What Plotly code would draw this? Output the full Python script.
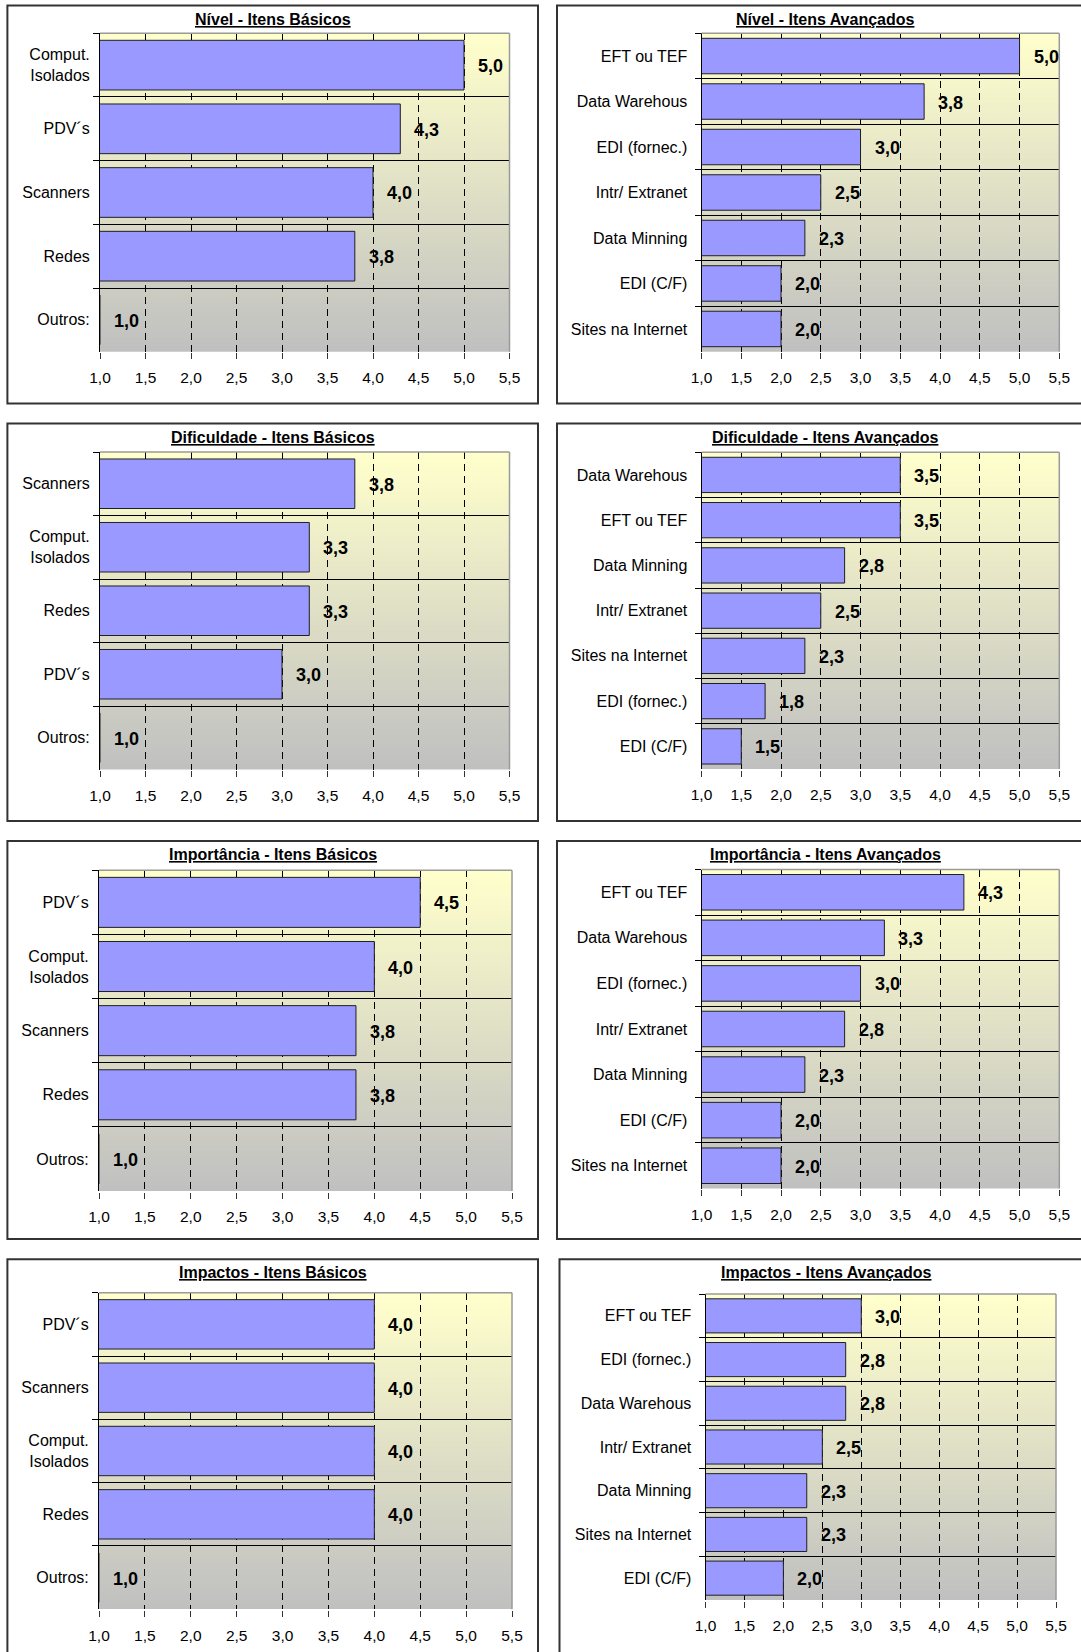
import plotly.graph_objects as go

# ---- dados (média das respostas, escala 1 a 5) ----
titulo_nivel_bas = "Nível - Itens Básicos"
itens_nivel_bas = ["Comput.<br>Isolados", "PDV´s", "Scanners", "Redes", "Outros:"]
valores_nivel_bas = [5.0, 4.3, 4.0, 3.8, 1.0]

titulo_nivel_av = "Nível - Itens Avançados"
itens_nivel_av = ["EFT ou TEF", "Data Warehous", "EDI (fornec.)", "Intr/ Extranet",
                  "Data Minning", "EDI (C/F)", "Sites na Internet"]
valores_nivel_av = [5.0, 3.8, 3.0, 2.5, 2.3, 2.0, 2.0]

titulo_dif_bas = "Dificuldade - Itens Básicos"
itens_dif_bas = ["Scanners", "Comput.<br>Isolados", "Redes", "PDV´s", "Outros:"]
valores_dif_bas = [3.8, 3.3, 3.3, 3.0, 1.0]

titulo_dif_av = "Dificuldade - Itens Avançados"
itens_dif_av = ["Data Warehous", "EFT ou TEF", "Data Minning", "Intr/ Extranet",
                "Sites na Internet", "EDI (fornec.)", "EDI (C/F)"]
valores_dif_av = [3.5, 3.5, 2.8, 2.5, 2.3, 1.8, 1.5]

titulo_imp_bas = "Importância - Itens Básicos"
itens_imp_bas = ["PDV´s", "Comput.<br>Isolados", "Scanners", "Redes", "Outros:"]
valores_imp_bas = [4.5, 4.0, 3.8, 3.8, 1.0]

titulo_imp_av = "Importância - Itens Avançados"
itens_imp_av = ["EFT ou TEF", "Data Warehous", "EDI (fornec.)", "Intr/ Extranet",
                "Data Minning", "EDI (C/F)", "Sites na Internet"]
valores_imp_av = [4.3, 3.3, 3.0, 2.8, 2.3, 2.0, 2.0]

titulo_impc_bas = "Impactos - Itens Básicos"
itens_impc_bas = ["PDV´s", "Scanners", "Comput.<br>Isolados", "Redes", "Outros:"]
valores_impc_bas = [4.0, 4.0, 4.0, 4.0, 1.0]

titulo_impc_av = "Impactos - Itens Avançados"
itens_impc_av = ["EFT ou TEF", "EDI (fornec.)", "Data Warehous", "Intr/ Extranet",
                 "Data Minning", "Sites na Internet", "EDI (C/F)"]
valores_impc_av = [3.0, 2.8, 2.8, 2.5, 2.3, 2.3, 2.0]

eixo_x_min, eixo_x_max, eixo_x_passo = 1.0, 5.5, 0.5

paineis = [
    (titulo_nivel_bas, itens_nivel_bas, valores_nivel_bas),
    (titulo_nivel_av, itens_nivel_av, valores_nivel_av),
    (titulo_dif_bas, itens_dif_bas, valores_dif_bas),
    (titulo_dif_av, itens_dif_av, valores_dif_av),
    (titulo_imp_bas, itens_imp_bas, valores_imp_bas),
    (titulo_imp_av, itens_imp_av, valores_imp_av),
    (titulo_impc_bas, itens_impc_bas, valores_impc_bas),
    (titulo_impc_av, itens_impc_av, valores_impc_av),
]

# ---- geometria da página (pixels) ----
W, H = 1081, 1652
FONT = "Liberation Sans, Arial, sans-serif"

# área de plotagem por painel: (x0, x1, y0, y1)
areas = [
    (100.0, 509.5, 33.3, 351.7), (701.5, 1059.3, 33.3, 351.7),
    (100.0, 509.5, 452.0, 769.5), (701.5, 1059.3, 452.3, 769.0),
    (99.0, 512.0, 870.3, 1191.0), (701.5, 1059.3, 869.5, 1188.5),
    (99.0, 512.0, 1292.7, 1609.3), (705.5, 1056.0, 1294.0, 1600.0),
]
# moldura de cada gráfico: (x0, x1, y0, y1)
molduras = [
    (7.4, 538.0, 5.5, 403.5), (557.0, 1093.0, 5.5, 403.5),
    (7.4, 538.0, 423.5, 821.0), (557.0, 1093.0, 423.5, 821.0),
    (7.4, 538.0, 841.0, 1239.0), (557.0, 1093.0, 841.0, 1239.0),
    (7.4, 538.0, 1259.3, 1660.0), (559.5, 1093.0, 1259.3, 1660.0),
]
titulo_y = [19.5, 437.5, 854.7, 1272.7]


def px(x):
    return x / W


def py(y):
    return 1 - y / H


def mistura(c0, c1, t):
    return "rgb(%d,%d,%d)" % tuple(round(a + (b - a) * t) for a, b in zip(c0, c1))


COR_TOPO = (255, 255, 204)
COR_BASE = (192, 192, 192)
N_FAIXAS = 64

fig = go.Figure()
layout = dict(
    width=W, height=H, margin=dict(l=0, r=0, t=0, b=0, pad=0),
    autosize=False,
    paper_bgcolor="white", plot_bgcolor="white",
    separators=",.", bargap=0.22, showlegend=False,
    font=dict(family=FONT, color="black"),
)
shapes = []
annotations = []

for i, (titulo, itens, valores) in enumerate(paineis):
    n = i + 1
    xa = "xaxis" if n == 1 else f"xaxis{n}"
    ya = "yaxis" if n == 1 else f"yaxis{n}"
    xr = "x" if n == 1 else f"x{n}"
    yr = "y" if n == 1 else f"y{n}"
    x0, x1, y0, y1 = areas[i]
    direita = i % 2 == 1

    layout[xa] = dict(
        domain=[px(x0), px(x1)], anchor=yr,
        range=[eixo_x_min, eixo_x_max], tick0=eixo_x_min, dtick=eixo_x_passo,
        tickformat=".1f", showgrid=True, gridcolor="black", gridwidth=1,
        griddash="7px,5px", zeroline=False,
        ticks="outside", ticklen=6, tickcolor="#333333", tickwidth=1,
        showline=True, linecolor="white", linewidth=1.5,
        tickfont=dict(size=15.5, family=FONT), ticklabelstandoff=5,
        automargin=False, fixedrange=True,
    )
    layout[ya] = dict(
        domain=[py(y1), py(y0)], anchor=xr, type="category",
        categoryorder="array", categoryarray=itens,
        range=[len(itens) - 0.5, -0.5], tickson="boundaries",
        ticks="outside", ticklen=6, tickcolor="black", tickwidth=1,
        showgrid=True, gridcolor="black", gridwidth=1,
        showline=True, linecolor="black", linewidth=1,
        tickfont=dict(size=16, family=FONT),
        ticklabelstandoff=10 if direita else 6,
        automargin=False, fixedrange=True,
    )

    fig.add_trace(go.Bar(
        x=valores, y=itens, orientation="h", xaxis=xr, yaxis=yr,
        marker=dict(color="#9999FF", line=dict(color="#202020", width=1)),
        hoverinfo="x+y",
    ))

    # fundo em degradê (amarelo claro -> cinza); faixas sobrepostas para não
    # deixar emendas visíveis
    for k in range(N_FAIXAS):
        t = (k + 0.5) / N_FAIXAS
        shapes.append(dict(
            type="rect", xref=f"{xr} domain", yref=f"{yr} domain",
            x0=0, x1=1, y0=max(0.0, 1 - (k + 1.6) / N_FAIXAS), y1=1 - k / N_FAIXAS,
            fillcolor=mistura(COR_TOPO, COR_BASE, t),
            line=dict(width=0), layer="below",
        ))
    # bordas superior e direita da área de plotagem
    shapes.append(dict(type="line", xref=f"{xr} domain", yref=f"{yr} domain",
                       x0=0, x1=1, y0=1, y1=1,
                       line=dict(color="#9a9a9a", width=1.5), layer="above"))
    shapes.append(dict(type="line", xref=f"{xr} domain", yref=f"{yr} domain",
                       x0=1, x1=1, y0=0, y1=1,
                       line=dict(color="#9a9a9a", width=1.5), layer="above"))

    # moldura do gráfico
    mx0, mx1, my0, my1 = molduras[i]
    shapes.append(dict(type="rect", xref="paper", yref="paper",
                       x0=px(mx0), x1=px(mx1), y0=py(my1), y1=py(my0),
                       line=dict(color="#333333", width=2), layer="above"))

    # título sublinhado
    annotations.append(dict(
        xref="paper", yref="paper", x=px((mx0 + mx1) / 2), y=py(titulo_y[i // 2]),
        text=f"<u><b>{titulo}</b></u>", showarrow=False,
        xanchor="center", yanchor="middle",
        font=dict(size=16, family=FONT, color="black"),
    ))

    # rótulos de valor ao lado das barras
    for item, v in zip(itens, valores):
        annotations.append(dict(
            xref=xr, yref=yr, x=v, y=item,
            text=f"<b>{v:.1f}</b>".replace(".", ","), showarrow=False,
            xanchor="left", yanchor="middle", xshift=12, yshift=-1,
            font=dict(size=18, family=FONT, color="black"),
        ))

layout["shapes"] = shapes
layout["annotations"] = annotations
fig.update_layout(**layout)

# página sem margem em volta da figura
fig.write_html(
    "out.html",
    post_script="document.body.style.margin='0';document.body.style.overflow='hidden';",
)
